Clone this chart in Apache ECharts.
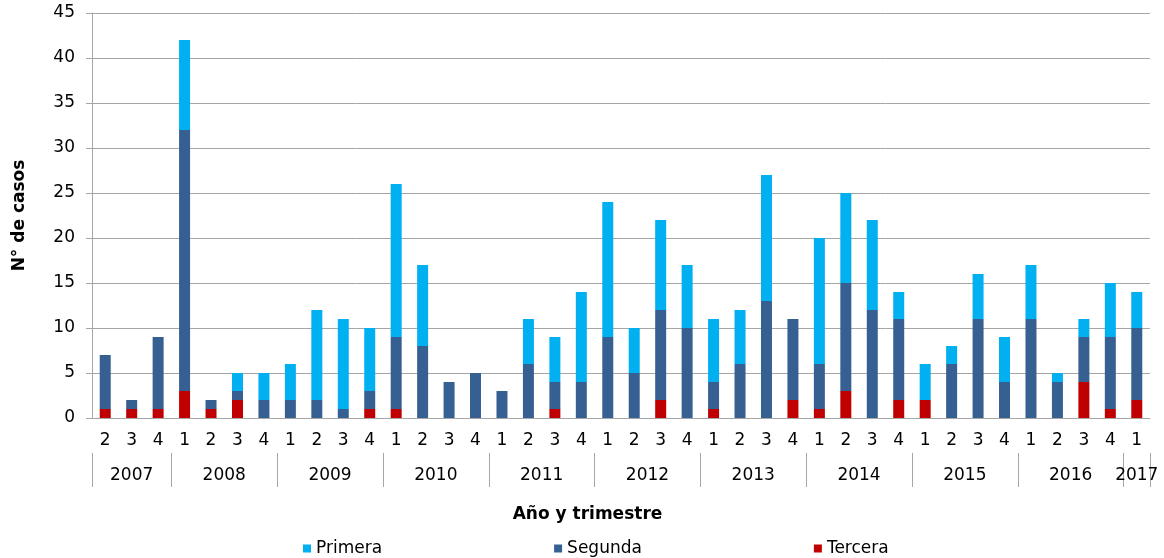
<!DOCTYPE html>
<html>
<head>
<meta charset="utf-8">
<script src="https://cdn.jsdelivr.net/npm/echarts@6/dist/echarts.min.js"></script>
<style>
html, body { margin: 0; padding: 0; background: #fff; }
#main { width: 1164px; height: 558px; }
</style>
</head>
<body>
<div id="main"></div>
<script>
// trimestres (eje de categorías) y años
var quarters = ['2', '3', '4',
    '1', '2', '3', '4', '1', '2', '3', '4', '1', '2', '3', '4',
    '1', '2', '3', '4', '1', '2', '3', '4', '1', '2', '3', '4',
    '1', '2', '3', '4', '1', '2', '3', '4', '1', '2', '3', '4',
    '1'];
var years = ['2007', '2008', '2009', '2010', '2011', '2012', '2013', '2014', '2015', '2016', '2017'];

var primera = [0, 0, 0, 10, 0, 2, 3, 4, 10, 10, 7, 17, 9, 0, 0, 0, 5, 5, 10, 15,
    5, 10, 7, 7, 6, 14, 0, 14, 10, 10, 3, 4, 2, 5, 5, 6, 1, 2, 6, 4];
var segunda = [6, 1, 8, 29, 1, 1, 2, 2, 2, 1, 2, 8, 8, 4, 5, 3, 6, 3, 4, 9,
    5, 10, 10, 3, 6, 13, 9, 5, 12, 12, 9, 0, 6, 11, 4, 11, 4, 5, 8, 8];
var tercera = [1, 1, 1, 3, 1, 2, 0, 0, 0, 0, 1, 1, 0, 0, 0, 0, 0, 1, 0, 0,
    0, 2, 0, 1, 0, 0, 2, 1, 3, 0, 2, 2, 0, 0, 0, 0, 0, 4, 1, 2];

var myChart = echarts.init(document.getElementById('main'));

// limites de cada año sobre el eje (en unidades de trimestre)
var bounds = [0];
for (var i = 1; i < quarters.length; i++) {
    if (quarters[i] == '1') bounds.push(i);
}
bounds.push(quarters.length);
var mids = [];
for (var j = 0; j < bounds.length - 1; j++) {
    mids.push((bounds[j] + bounds[j + 1]) / 2);
}

var font = 'DejaVu Sans';
var fs = 17;
var gridColor = '#a6a6a6';

var option = {
    animation: false,
    textStyle: { fontFamily: font },
    grid: { left: 92, right: 14, top: 13, bottom: 140 },
    legend: {
        data: ['Primera', 'Segunda', 'Tercera'],
        left: 298,
        top: 535,
        itemWidth: 8,
        itemHeight: 8,
        itemGap: 172,
        icon: 'rect',
        textStyle: { fontSize: fs, color: '#000', fontFamily: font }
    },
    xAxis: [{
        type: 'category',
        data: quarters,
        name: 'Año y trimestre',
        nameLocation: 'middle',
        nameGap: 88,
        nameTextStyle: { fontSize: fs, fontWeight: 'bold', color: '#000', fontFamily: font, padding: [0, 67, 0, 0] },
        axisLine: { lineStyle: { color: gridColor } },
        axisTick: { interval: 0, length: 35, lineStyle: { color: gridColor } },
        axisLabel: { interval: 0, margin: 14, fontSize: fs, color: '#000', fontFamily: font }
    }, {
        type: 'value',
        min: 0,
        max: quarters.length,
        position: 'bottom',
        offset: 35,
        axisLine: { show: false },
        splitLine: { show: false },
        axisTick: { show: true, length: 34, customValues: bounds, lineStyle: { color: gridColor } },
        axisLabel: {
            margin: 14, fontSize: fs, color: '#000', fontFamily: font,
            customValues: mids,
            formatter: function (v) {
                var k = mids.indexOf(v);
                return k >= 0 ? years[k] : '';
            }
        }
    }],
    yAxis: {
        type: 'value',
        min: 0,
        max: 45,
        interval: 5,
        name: 'N° de casos',
        nameLocation: 'middle',
        nameGap: 64,
        nameTextStyle: { fontSize: fs, fontWeight: 'bold', color: '#000', fontFamily: font },
        axisLine: { show: true, lineStyle: { color: gridColor } },
        axisTick: { show: true, length: 6, lineStyle: { color: gridColor } },
        axisLabel: { fontSize: fs, color: '#000', margin: 17, fontFamily: font },
        splitLine: { lineStyle: { color: gridColor } }
    },
    series: [{
        name: 'Tercera',
        type: 'bar',
        stack: 'total',
        barWidth: 11,
        itemStyle: { color: '#c00000' },
        data: tercera
    }, {
        name: 'Segunda',
        type: 'bar',
        stack: 'total',
        barWidth: 11,
        itemStyle: { color: '#376092' },
        data: segunda
    }, {
        name: 'Primera',
        type: 'bar',
        stack: 'total',
        barWidth: 11,
        itemStyle: { color: '#00b0f0' },
        data: primera
    }]
};

myChart.setOption(option);
</script>
</body>
</html>
